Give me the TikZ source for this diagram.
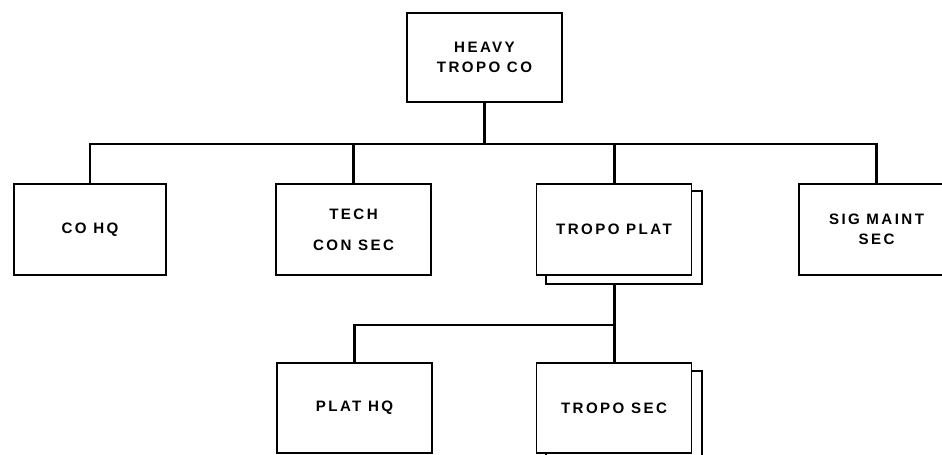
\documentclass[tikz,border=0pt]{standalone}
\usepackage{fontspec}
\setsansfont{Liberation Sans}[LetterSpace=16]
\usepackage{tikz}
\usetikzlibrary{backgrounds}

\begin{document}
\begin{tikzpicture}[
    x=0.02cm,y=-0.02cm,
    box/.style={draw,line width=1.1pt,fill=white,
      minimum width=3.1cm,minimum height=1.82cm,align=center,
      font=\sffamily\bfseries\fontsize{8.6}{11.5}\selectfont},
    backsheet/.style={draw,line width=1.1pt,fill=white},
    conn/.style={line width=1.7pt}
  ]
    \clip (0,0) rectangle (942,455);
    \node[box,minimum height=1.78cm] (co) at (484.5,57.5) {HEAVY\\TROPO CO};
    \node[box,minimum width=3.04cm] (cohq) at (90,229.5) {CO HQ};
    \node[box] (tech) at (353.5,229.5) {TECH\\[6pt]CON SEC};
    \node[box] (plat) at (614,229.5) {TROPO PLAT};
    \node[box] (sig) at (876.5,229.5) {SIG MAINT\\SEC};
    \node[box,minimum height=1.8cm] (plathq) at (354.5,408) {PLAT HQ};
    \node[box,minimum height=1.8cm] (troposec) at (614,408) {TROPO SEC};
    \coordinate (bus) at (484.5,144);
    \coordinate (platbus) at (614,325);
    \begin{scope}[on background layer]
      \draw[conn] (co.south)--(bus);
      \draw[conn] (cohq.north)|-(bus)-|(sig.north);
      \draw[conn] (tech.north)--(tech.north|-bus);
      \draw[conn] (plat.north)--(plat.north|-bus);
      \draw[conn] (plat.south)--(troposec.north);
      \draw[conn] (plathq.north)|-(platbus);
      % sheets stacked behind
      \draw[backsheet] ([shift={(10,8)}]plat.south west) rectangle ([shift={(10,8)}]plat.north east);
      \draw[backsheet] ([shift={(10,9)}]troposec.south west) rectangle ([shift={(10,9)}]troposec.north east);
    \end{scope}
  \end{tikzpicture}
\end{document}
